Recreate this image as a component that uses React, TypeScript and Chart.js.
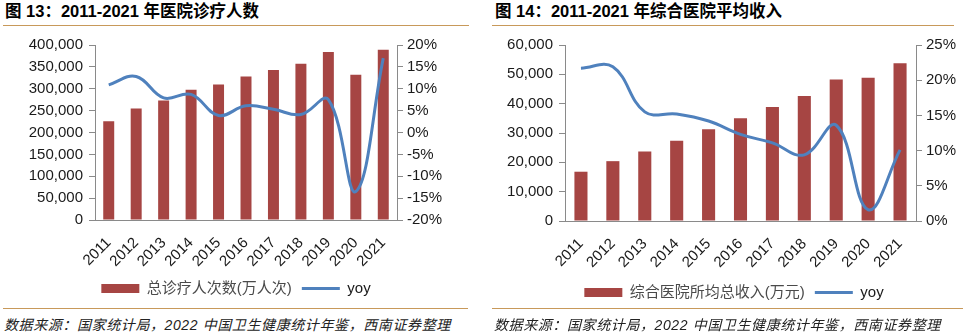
import React, { useEffect, useRef } from 'react';
import { Chart, registerables } from 'chart.js';

Chart.register(...registerables);

// ---------- data ----------
const years = ['2011', '2012', '2013', '2014', '2015', '2016', '2017', '2018', '2019', '2020', '2021'];

// 图13: 总诊疗人次数(万人次)
const visits = [226000, 255000, 273000, 298000, 310000, 328000, 343000, 357000, 384000, 332000, 389000];
const visitsYoy = [10.9, 12.8, 7.9, 8.7, 3.9, 6.1, 5.3, 4.1, 7.5, -13.5, 17.0];

// 图14: 综合医院所均总收入(万元)
const income = [16800, 20400, 23700, 27400, 31300, 35000, 38900, 42600, 48200, 48800, 53800];
const incomeYoy = [21.7, 21.9, 15.5, 15.2, 14.2, 12.3, 11.1, 9.4, 13.6, 1.6, 10.1];

const title1 = '图 13：2011-2021 年医院诊疗人数';
const title2 = '图 14：2011-2021 年综合医院平均收入';
const barLabel1 = '总诊疗人次数(万人次)';
const barLabel2 = '综合医院所均总收入(万元)';
const lineLabel = 'yoy';
const sourceText = '数据来源：国家统计局，2022 中国卫生健康统计年鉴，西南证券整理';

// ---------- styles ----------
const BAR = '#A64543';
const LINE = '#4F81BD';
const AXIS = '#8A8A8A';
const TICK_TEXT = '#1A1A1A';
const RULE = '#C8995A';
const FONT = '"Liberation Sans", Arial, "Noto Sans CJK SC", sans-serif';

type ComboProps = {
  bars: number[];
  yoy: number[];
  barLabel: string;
  yMax: number;
  yStep: number;
  y1Min: number;
  y1Max: number;
  y1Step: number;
  leftW: number;
  rightW: number;
  topPad: number;
  xH: number;
  barPct: number;
  width: number;
  height: number;
  left: number;
  top: number;
};

function Combo(p: ComboProps) {
  const ref = useRef<HTMLCanvasElement>(null);
  useEffect(() => {
    const tickFont = { family: FONT, size: 15 };
    const chart = new Chart(ref.current!, {
      type: 'bar',
      data: {
        labels: years,
        datasets: [
          {
            type: 'bar',
            label: p.barLabel,
            data: p.bars,
            yAxisID: 'y',
            backgroundColor: BAR,
            barPercentage: p.barPct,
            categoryPercentage: 1,
            order: 2,
          } as any,
          {
            type: 'line',
            label: lineLabel,
            data: p.yoy,
            yAxisID: 'y1',
            borderColor: LINE,
            backgroundColor: LINE,
            borderWidth: 3,
            pointRadius: 0,
            tension: 0.4,
            fill: false,
            order: 1,
          } as any,
        ],
      },
      options: {
        animation: false,
        responsive: false,
        maintainAspectRatio: false,
        layout: { padding: { top: p.topPad, left: 0, right: 0, bottom: 0 } },
        plugins: {
          tooltip: { enabled: false },
          legend: {
            position: 'bottom',
            labels: {
              usePointStyle: true,
              pointStyleWidth: 38,
              boxWidth: 38,
              boxHeight: 9,
              padding: 10,
              font: { family: FONT, size: 15 },
              generateLabels: () => [
                {
                  text: p.barLabel,
                  fillStyle: BAR,
                  strokeStyle: BAR,
                  lineWidth: 0,
                  pointStyle: 'rect',
                  datasetIndex: 0,
                  hidden: false,
                  fontColor: '#4A4A4A',
                } as any,
                {
                  text: lineLabel,
                  fillStyle: LINE,
                  strokeStyle: LINE,
                  lineWidth: 3,
                  pointStyle: 'line',
                  datasetIndex: 1,
                  hidden: false,
                  fontColor: '#1A1A1A',
                } as any,
              ],
            },
          },
        },
        scales: {
          x: {
            grid: { display: false, drawTicks: false },
            border: { display: true, color: AXIS, width: 1 },
            ticks: {
              font: tickFont,
              color: TICK_TEXT,
              minRotation: 45,
              maxRotation: 45,
              autoSkip: false,
              padding: 14,
            },
            afterFit: (s: any) => {
              s.height = p.xH;
            },
          },
          y: {
            position: 'left',
            min: 0,
            max: p.yMax,
            grid: { drawOnChartArea: false, drawTicks: true, tickLength: 6, color: AXIS },
            border: { display: true, color: AXIS, width: 1 },
            ticks: {
              stepSize: p.yStep,
              font: tickFont,
              color: TICK_TEXT,
              padding: 6,
              callback: (v: any) => Number(v).toLocaleString('en-US'),
            },
            afterFit: (s: any) => {
              s.width = p.leftW;
            },
          },
          y1: {
            position: 'right',
            min: p.y1Min,
            max: p.y1Max,
            grid: { drawOnChartArea: false, drawTicks: true, tickLength: 6, color: AXIS },
            border: { display: true, color: AXIS, width: 1 },
            ticks: {
              stepSize: p.y1Step,
              font: tickFont,
              color: TICK_TEXT,
              padding: 4,
              callback: (v: any) => `${Math.round(Number(v))}%`,
            },
            afterFit: (s: any) => {
              s.width = p.rightW;
            },
          },
        },
      } as any,
    });
    return () => chart.destroy();
  }, []);
  return (
    <canvas
      ref={ref}
      width={p.width}
      height={p.height}
      style={{ position: 'absolute', left: p.left, top: p.top, width: p.width, height: p.height }}
    />
  );
}

const titleStyle: React.CSSProperties = {
  position: 'absolute',
  top: 2,
  fontFamily: FONT,
  fontWeight: 700,
  fontSize: 16.5,
  lineHeight: '18px',
  color: '#000',
  whiteSpace: 'nowrap',
};

const sourceStyle: React.CSSProperties = {
  position: 'absolute',
  top: 317,
  fontFamily: FONT,
  fontStyle: 'italic',
  fontSize: 14,
  lineHeight: '16px',
  letterSpacing: '0.6px',
  color: '#222',
  whiteSpace: 'nowrap',
};

function Rule({ left, top, width }: { left: number; top: number; width: number }) {
  return <div style={{ position: 'absolute', left, top, width, height: 1, background: RULE }} />;
}

export default function App() {
  return (
    <div
      style={{
        position: 'fixed',
        left: 0,
        top: 0,
        width: 966,
        height: 336,
        background: '#fff',
        overflow: 'hidden',
      }}
    >
      <div style={{ ...titleStyle, left: 5 }}>{title1}</div>
      <div style={{ ...titleStyle, left: 495 }}>{title2}</div>
      <Rule left={3} top={25} width={466} />
      <Rule left={492} top={25} width={462} />

      <Combo
        bars={visits}
        yoy={visitsYoy}
        barLabel={barLabel1}
        yMax={400000}
        yStep={50000}
        y1Min={-20}
        y1Max={20}
        y1Step={5}
        leftW={95}
        rightW={75}
        topPad={13}
        xH={51}
        barPct={0.4}
        width={472}
        height={276}
        left={0}
        top={30}
      />
      <Combo
        bars={income}
        yoy={incomeYoy}
        barLabel={barLabel2}
        yMax={60000}
        yStep={10000}
        y1Min={0}
        y1Max={25}
        y1Step={5}
        leftW={63}
        rightW={50}
        topPad={9}
        xH={54}
        barPct={0.41}
        width={464}
        height={280}
        left={502}
        top={30}
      />

      <Rule left={3} top={308} width={465} />
      <Rule left={492} top={308} width={471} />
      <div style={{ ...sourceStyle, left: 4 }}>{sourceText}</div>
      <div style={{ ...sourceStyle, left: 494 }}>{sourceText}</div>
    </div>
  );
}
